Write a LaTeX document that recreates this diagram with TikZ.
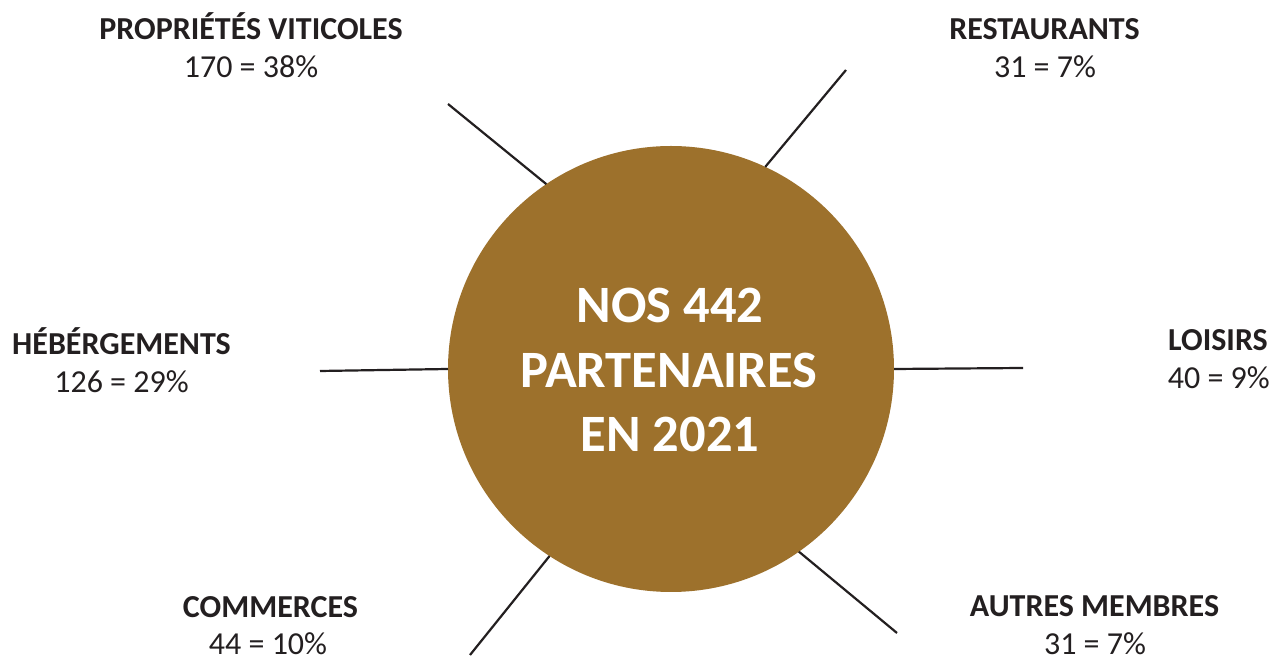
\documentclass[tikz,border=0pt]{standalone}
\usepackage{fontspec}
\setmainfont{Carlito}
\definecolor{gold}{HTML}{9D712C}
\definecolor{ink}{HTML}{231F20}
\begin{document}
\begin{tikzpicture}[x=1pt,y=1pt,
  hub/.style={circle,fill=gold,draw=none,inner sep=0pt,outer sep=0pt,minimum size=446pt},
  spoke/.style={draw=ink,line width=2.2pt},
  ttl/.style={anchor=base,inner sep=0pt,text=ink,font=\fontsize{32}{32}\selectfont\bfseries},
  num/.style={anchor=base,inner sep=0pt,text=ink,font=\fontsize{32}{32}\selectfont},
  ctr/.style={anchor=base,inner sep=0pt,text=white,font=\fontsize{52.5}{52.5}\selectfont\bfseries}]
\useasboundingbox (0,0) rectangle (1272,658);
\fill[white] (0,0) rectangle (1272,658);
\node[hub] (circ) at (671,289) {};
\node[ctr] (c1) at (670,335) {NOS 442};
\node[ctr] (c2) at (669,270) {PARTENAIRES};
\node[ctr] (c3) at (670,206) {EN 2021};
% spokes
\coordinate (pvend) at (448,554);
\coordinate (rsend) at (846,588);
\coordinate (hbend) at (320,287);
\coordinate (loend) at (1023,290);
\coordinate (coend) at (470,3);
\coordinate (amend) at (897,25);
\draw[spoke] (pvend) -- (circ.124.4);
\draw[spoke] (rsend) -- (circ.65.2);
\draw[spoke] (hbend) -- (circ.180.4);
\draw[spoke] (loend) -- (circ.0.2);
\draw[spoke] (coend) -- (circ.237.8);
\draw[spoke] (amend) -- (circ.305);
% labels
\node[ttl] (pv) at (251,618) {PROPRIÉTÉS VITICOLES};
\node[num] (pvn) at (251,580) {170 = 38\%};
\node[ttl] (rs) at (1044.5,618) {RESTAURANTS};
\node[num] (rsn) at (1045,580) {31 = 7\%};
\node[ttl] (hb) at (121.5,303) {HÉBÉRGEMENTS};
\node[num] (hbn) at (121.5,265) {126 = 29\%};
\node[ttl,anchor=base east] (lo) at (1268,307) {LOISIRS};
\node[num,anchor=base east] (lon) at (1270,269) {40 = 9\%};
\node[ttl] (co) at (270.5,40) {COMMERCES};
\node[num] (con) at (268,3) {44 = 10\%};
\node[ttl] (am) at (1094.5,41) {AUTRES MEMBRES};
\node[num] (amn) at (1095,3) {31 = 7\%};
\end{tikzpicture}
\end{document}
